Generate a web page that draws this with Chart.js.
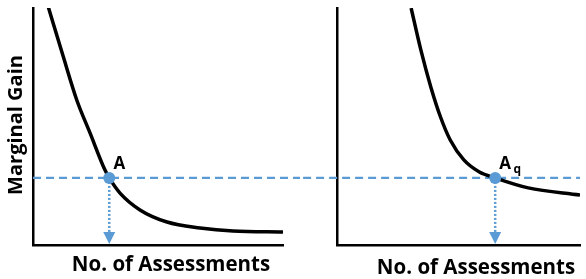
<!DOCTYPE html>
<html>
<head>
<meta charset="utf-8">
<script src="https://cdn.jsdelivr.net/npm/chart.js@4.4.0/dist/chart.umd.min.js"></script>
<style>
  html, body { margin: 0; padding: 0; background: #fff; }
  #wrap { position: relative; width: 586px; height: 279px; overflow: hidden; }
  canvas { position: absolute; top: 0; }
  #c1 { left: 0; }
  #c2 { left: 300px; }
</style>
</head>
<body>
<div id="wrap">
  <canvas id="c1" width="300" height="279"></canvas>
  <canvas id="c2" width="286" height="279"></canvas>
</div>
<script>
// ---- data ----
const leftCurveX  = [0.61, 1.21, 1.75, 2.28, 2.88, 3.05, 3.48, 4.28, 5.36, 6.68, 8.0, 10];
const leftCurveY  = [10.05, 7.95, 6.12, 4.73, 3.16, 2.83, 2.19, 1.48, 0.97, 0.72, 0.59, 0.55];
const rightCurveX = [3.05, 3.45, 3.86, 4.26, 4.66, 5.22, 5.86, 6.51, 7.87, 10];
const rightCurveY = [10.0, 8.23, 6.67, 5.40, 4.43, 3.59, 3.08, 2.83, 2.41, 2.11];
const threshold = 2.83;          // marginal gain level (dashed line)
const pointA  = 3.05;            // assessments at A
const pointAq = 6.51;            // assessments at A_q
const axisMax = 10;
const xTitle = 'No. of Assessments';
const yTitle = 'Marginal Gain';

const BLUE = '#5B9BD5';
const FONT = '"Open Sans", Lato, sans-serif';

function xy(xs, ys) { return xs.map((x, i) => ({ x: x, y: ys[i] })); }

const decor = {
  id: 'decor',
  afterDatasetsDraw(chart, args, opts) {
    const ctx = chart.ctx;
    const xs = chart.scales.x, ys = chart.scales.y;
    const px = xs.getPixelForValue(opts.px);
    const py0 = ys.getPixelForValue(0);
    const py = ys.getPixelForValue(threshold);
    ctx.save();
    // arrow head
    ctx.fillStyle = BLUE;
    ctx.beginPath();
    ctx.moveTo(px, py0 - 1);
    ctx.lineTo(px - 6, py0 - 13);
    ctx.lineTo(px + 6, py0 - 13);
    ctx.closePath();
    ctx.fill();
    // point label
    ctx.fillStyle = '#000';
    ctx.textBaseline = 'middle';
    ctx.textAlign = 'center';
    ctx.font = 'bold 17px ' + FONT;
    ctx.fillText('A', px + 10, py - 14);
    if (opts.sub) {
      ctx.font = 'bold 12px ' + FONT;
      ctx.fillText(opts.sub, px + 22, py - 8);
    }
    ctx.restore();
  },
  afterDraw(chart, args, opts) {
    const ctx = chart.ctx;
    ctx.save();
    ctx.fillStyle = '#000';
    ctx.textAlign = 'center';
    ctx.textBaseline = 'middle';
    ctx.font = 'bold 20.5px ' + FONT;
    ctx.fillText(xTitle, opts.tx, opts.ty);
    if (opts.yTitle) {
      ctx.font = 'bold 20px ' + FONT;
      ctx.translate(16, 125);
      ctx.rotate(-Math.PI / 2);
      ctx.fillText(yTitle, 0, 0);
    }
    ctx.restore();
  }
};

function makeChart(id, curve, px, pad, deco, lineFrom, lineTo) {
  return new Chart(document.getElementById(id), {
    type: 'scatter',
    data: {
      datasets: [
        { // marked point
          data: [{ x: px, y: threshold }],
          pointRadius: 6, pointHoverRadius: 6,
          backgroundColor: BLUE, borderWidth: 0, order: 0
        },
        { // curve
          data: curve, showLine: true, borderColor: '#000', borderWidth: 3.5,
          pointRadius: 0, cubicInterpolationMode: 'monotone', order: 1
        },
        { // dashed horizontal level
          data: [{ x: lineFrom, y: threshold }, { x: lineTo, y: threshold }],
          showLine: true, borderColor: BLUE, borderWidth: 2.2, borderDash: [8, 5],
          pointRadius: 0, clip: false, order: 2
        },
        { // dotted drop line
          data: [{ x: px, y: threshold }, { x: px, y: 0.5 }],
          showLine: true, borderColor: BLUE, borderWidth: 2.5, borderDash: [2, 2],
          pointRadius: 0, order: 3
        }
      ]
    },
    options: {
      responsive: false, animation: false, events: [],
      layout: { padding: pad },
      plugins: { legend: { display: false }, tooltip: { enabled: false }, decor: deco },
      scales: {
        x: { type: 'linear', min: 0, max: axisMax,
             grid: { display: false, drawTicks: false }, ticks: { display: false },
             border: { display: true, color: '#000', width: 2.5 } },
        y: { type: 'linear', min: 0, max: axisMax,
             grid: { display: false, drawTicks: false }, ticks: { display: false },
             border: { display: true, color: '#000', width: 2.5 } }
      }
    },
    plugins: [decor]
  });
}

makeChart('c1', xy(leftCurveX, leftCurveY), pointA,
  { left: 33, right: 17, top: 8, bottom: 34 },
  { px: pointA, tx: 171, ty: 265.5, yTitle: true }, 0, 14);
makeChart('c2', xy(rightCurveX, rightCurveY), pointAq,
  { left: 37, right: 0, top: 8, bottom: 34 },
  { px: pointAq, tx: 176, ty: 268, sub: 'q' }, -3, axisMax);
</script>
</body>
</html>
